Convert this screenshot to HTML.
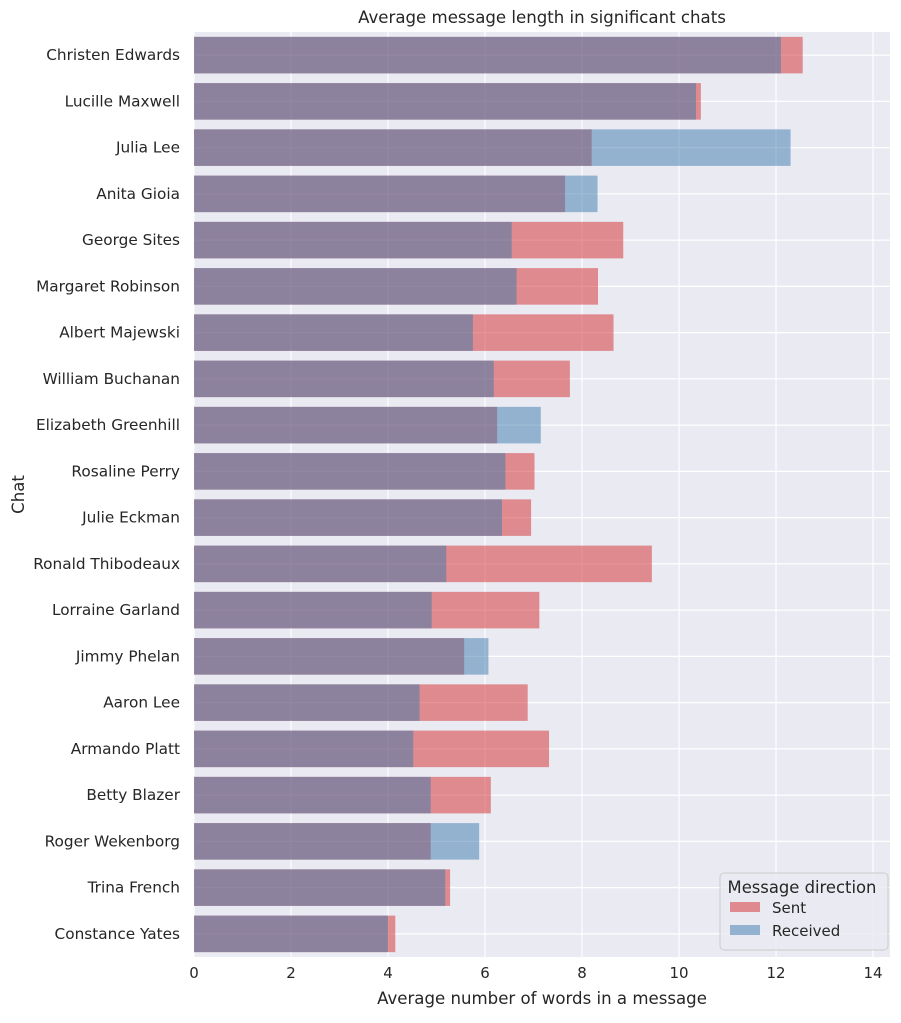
<!DOCTYPE html>
<html><head><meta charset="utf-8"><style>
body{margin:0;background:#fff;font-family:"Liberation Sans","DejaVu Sans",sans-serif;}
svg text{font-family:"DejaVu Sans","Liberation Sans",sans-serif;fill:#262626;}
</style></head><body>
<svg id="c" width="901" height="1018" xmlns="http://www.w3.org/2000/svg"></svg>
<script>
const categories=["Christen Edwards","Lucille Maxwell","Julia Lee","Anita Gioia","George Sites","Margaret Robinson","Albert Majewski","William Buchanan","Elizabeth Greenhill","Rosaline Perry","Julie Eckman","Ronald Thibodeaux","Lorraine Garland","Jimmy Phelan","Aaron Lee","Armando Platt","Betty Blazer","Roger Wekenborg","Trina French","Constance Yates"];
const sentValues=[12.55,10.45,8.2,7.65,8.85,8.33,8.65,7.75,6.25,7.02,6.95,9.44,7.12,5.57,6.88,7.32,6.12,4.88,5.28,4.15];
const receivedValues=[12.1,10.35,12.3,8.32,6.55,6.65,5.75,6.18,7.15,6.42,6.35,5.2,4.9,6.07,4.65,4.52,4.88,5.88,5.18,4.0];
const xTicks=[0,2,4,6,8,10,12,14];
const NS="http://www.w3.org/2000/svg";
const svg=document.getElementById('c');
const L=194,R=890,T=32,B=957,xmax=14.35;
const RED='#d12a2c',BLUE='#3b7aae';
const x=v=>L+v/xmax*(R-L);
const step=(B-T)/categories.length;
const yc=i=>T+step*(i+0.5);
function el(t,a,p){const e=document.createElementNS(NS,t);for(const k in a)e.setAttribute(k,a[k]);(p||svg).appendChild(e);return e;}
const bg=el('rect',{x:L,y:T,width:R-L,height:B-T,fill:'#eaeaf2'});


xTicks.forEach(v=>{
 const g=el('line',{x1:x(v),x2:x(v),y1:T,y2:B,stroke:'#fff','stroke-width':1.2});
 
 
 const t=el('text',{x:x(v),y:B+21,'text-anchor':'middle','font-size':15});
 t.textContent=v;
 
 
});
categories.forEach((c,i)=>{
 const g=el('line',{x1:L,x2:R,y1:yc(i),y2:yc(i),stroke:'#fff','stroke-width':1.2});
 
 
 const t=el('text',{x:L-14,y:yc(i)+5,'text-anchor':'end','font-size':15.3});
 t.textContent=c;
 
 
});
const bh=step*0.79;
categories.forEach((c,i)=>{
 const s=el('rect',{x:L,y:yc(i)-bh/2,width:x(sentValues[i])-L,height:bh,fill:RED,'fill-opacity':0.5});
 
 
});
categories.forEach((c,i)=>{
 const r=el('rect',{x:L,y:yc(i)-bh/2,width:x(receivedValues[i])-L,height:bh,fill:BLUE,'fill-opacity':0.5});
 
 
});
let t=el('text',{x:(L+R)/2,y:23,'text-anchor':'middle','font-size':16.6});t.textContent='Average message length in significant chats';


t=el('text',{x:(L+R)/2,y:1004,'text-anchor':'middle','font-size':16.6});t.textContent='Average number of words in a message';


t=el('text',{x:24,y:(T+B)/2,'text-anchor':'middle','font-size':16.6,transform:`rotate(-90 24 ${(T+B)/2})`});t.textContent='Chat';


const lg=el('g',{});


el('rect',{x:720,y:873,width:168,height:77,rx:4,fill:'#eaeaf2','fill-opacity':0.85,stroke:'#ccc'},lg);
t=el('text',{x:802,y:893,'text-anchor':'middle','font-size':16.4},lg);t.textContent='Message direction';


[['Sent',RED,913],['Received',BLUE,936]].forEach(([n,col,y])=>{
 const g=el('g',{},lg);
 
 
 el('rect',{x:730,y:y-11,width:30,height:10,fill:col,'fill-opacity':0.5},g);
 const tt=el('text',{x:772,y:y,'font-size':15},g);tt.textContent=n;
});
</script>
</body></html>
